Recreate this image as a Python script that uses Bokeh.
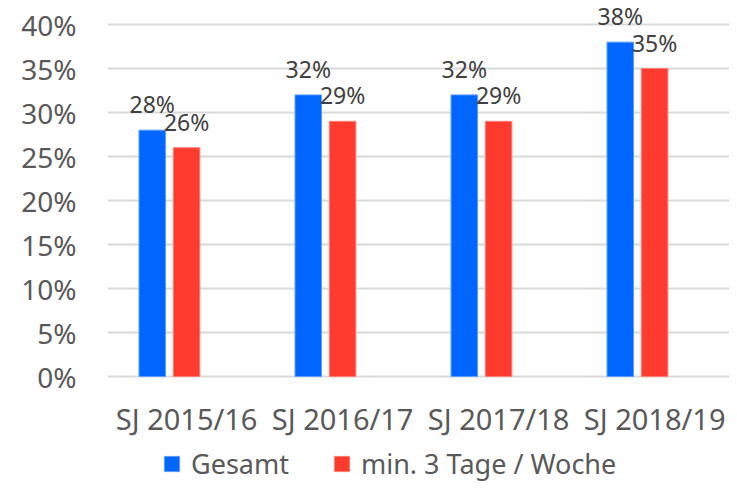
from bokeh.plotting import figure
from bokeh.models import Range1d, FixedTicker, Legend, LegendItem, ColumnDataSource
from bokeh.transform import dodge
from bokeh.embed import file_html
from bokeh.resources import INLINE
from bokeh.core.properties import value

categories = ["SJ 2015/16", "SJ 2016/17", "SJ 2017/18", "SJ 2018/19"]
gesamt = [0.28, 0.32, 0.32, 0.38]
min3 = [0.26, 0.29, 0.29, 0.35]
series_names = ["Gesamt", "min. 3 Tage / Woche"]
y_ticks = [0.0, 0.05, 0.10, 0.15, 0.20, 0.25, 0.30, 0.35, 0.40]

FONT = "Noto Sans"
BLUE = "#0066ff"
RED = "#ff3b30"

xs = list(range(len(categories)))
src = ColumnDataSource(dict(
    x=xs,
    base=[y_ticks[0]] * len(xs),
    cat=categories,
    g=gesamt,
    m=min3,
    gl=[f"{v * 100:.0f}%" for v in gesamt],
    ml=[f"{v * 100:.0f}%" for v in min3],
))

p = figure(width=729, height=482, x_range=Range1d(-0.397, 3.59), y_range=Range1d(-0.1204, 0.4273),
           output_backend="svg", toolbar_location=None,
           min_border_left=107, min_border_right=0, min_border_top=0, min_border_bottom=0)
p.outline_line_color = None
p.background_fill_color = "white"
p.border_fill_color = "white"

p.xaxis.visible = False
p.xgrid.grid_line_color = None
p.ygrid.grid_line_color = "#d9d9d9"
p.ygrid.grid_line_width = 2
p.yaxis.ticker = FixedTicker(ticks=y_ticks)
p.yaxis.major_label_overrides = {t: f"{t * 100:.0f}%" for t in y_ticks}
p.yaxis.axis_line_color = None
p.yaxis.major_tick_line_color = None
p.yaxis.minor_tick_line_color = None
p.yaxis.major_label_text_font = FONT
p.yaxis.major_label_text_font_size = "28px"
p.yaxis.major_label_text_color = "#595959"
p.yaxis.major_label_standoff = 25

off = 0.11
bw = 0.17

# category labels below the zero line
p.text(x=dodge("x", off), y="base", text="cat", source=src, y_offset=42,
       text_align="center", text_baseline="middle",
       text_font=value(FONT), text_font_size="29px", text_color="#595959")

r1 = p.vbar(x=dodge("x", -off), top="g", width=bw, source=src,
            fill_color=BLUE, line_color="#5c9dff", line_width=1)
r2 = p.vbar(x=dodge("x", off), top="m", width=bw, source=src,
            fill_color=RED, line_color="#ff7d75", line_width=1)

for col, lab, d in (("g", "gl", -off), ("m", "ml", off)):
    p.text(x=dodge("x", d), y=col, text=lab, source=src, y_offset=-26,
           text_align="center", text_baseline="middle",
           text_font=value(FONT), text_font_size="23px", text_color="#404040")

legend = Legend(items=[LegendItem(label=series_names[0], renderers=[r1]),
                       LegendItem(label=series_names[1], renderers=[r2])],
                orientation="horizontal", location=(55, 0),
                glyph_width=19, glyph_height=19, label_standoff=10, spacing=43,
                padding=0, margin=0, border_line_color=None, background_fill_alpha=0,
                label_text_font=FONT, label_text_font_size="27px", label_text_color="#595959")
p.add_layout(legend)

open("out.html", "w").write(file_html(p, INLINE))
